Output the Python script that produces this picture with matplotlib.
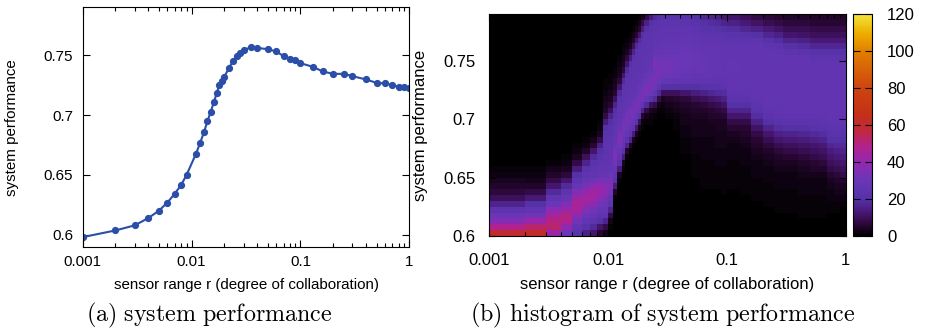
import numpy as np
import matplotlib
matplotlib.use("Agg")
import matplotlib.pyplot as plt
from matplotlib.colors import LinearSegmentedColormap
from matplotlib.ticker import LogLocator, NullFormatter

plt.rcParams['font.family'] = ['Liberation Sans', 'DejaVu Sans']
plt.rcParams['mathtext.fontset'] = 'cm'

# sensor range r and mean system performance (panel a)
r = [0.001, 0.002, 0.003, 0.004, 0.005, 0.006, 0.007, 0.008, 0.009, 0.011,
     0.012, 0.013, 0.014, 0.015, 0.016, 0.017, 0.018, 0.019, 0.020, 0.022,
     0.024, 0.026, 0.028, 0.030, 0.035, 0.040, 0.050, 0.060, 0.070, 0.080,
     0.090, 0.10, 0.13, 0.16, 0.20, 0.25, 0.30, 0.40, 0.50, 0.60,
     0.70, 0.80, 0.90, 1.0]
perf = [0.598, 0.6036, 0.6078, 0.6139, 0.620, 0.6269, 0.6342, 0.6414, 0.650, 0.6678,
        0.6769, 0.6856, 0.695, 0.7027, 0.7106, 0.718, 0.7255, 0.7285, 0.7319, 0.7392,
        0.745, 0.749, 0.7522, 0.754, 0.7567, 0.7561, 0.755, 0.7531, 0.7492, 0.7472,
        0.7456, 0.7433, 0.7403, 0.7364, 0.7344, 0.7344, 0.7325, 0.7297, 0.7269, 0.7264,
        0.725, 0.7236, 0.7231, 0.7222]

# histogram (panel b): r grid of the histogram and performance bins of 0.005
hist_r = [0.001, 0.002, 0.003, 0.004, 0.005, 0.006, 0.007, 0.008, 0.009, 0.010,
          0.011, 0.012, 0.013, 0.014, 0.015, 0.016, 0.017, 0.018, 0.019, 0.020,
          0.022, 0.024, 0.026, 0.028, 0.030, 0.035, 0.040, 0.050, 0.060, 0.070,
          0.080, 0.090, 0.10, 0.13, 0.16, 0.20, 0.25, 0.30, 0.40, 0.50,
          0.60, 0.70, 0.80, 0.90, 1.0]
perf_edges = [0.600 + 0.005 * k for k in range(39)]
# one entry per r-cell: (first non-empty bin, counts going upward from that bin)
hist_cols = [
    (0, [60, 48, 37, 30, 24, 16, 10, 7, 5, 4, 2, 1]),
    (0, [62, 52, 42, 32, 26, 20, 13, 8, 5, 3, 2, 1]),
    (0, [42, 52, 50, 45, 38, 30, 25, 18, 12, 8, 5, 3, 1]),
    (0, [30, 40, 48, 50, 42, 35, 28, 24, 18, 12, 7, 4, 2, 1]),
    (0, [22, 26, 32, 38, 45, 46, 42, 35, 28, 24, 20, 14, 8, 4, 2, 1]),
    (0, [15, 22, 26, 30, 36, 42, 45, 40, 34, 28, 25, 22, 16, 10, 5, 2, 1]),
    (0, [12, 18, 24, 28, 32, 38, 44, 45, 38, 30, 26, 24, 22, 18, 12, 6, 3, 1]),
    (0, [6, 12, 20, 25, 28, 32, 38, 42, 40, 34, 28, 26, 24, 22, 20, 15, 8, 4, 2, 1]),
    (0, [3, 8, 16, 24, 28, 30, 34, 38, 36, 32, 28, 26, 25, 25, 24, 24, 23, 22, 20, 14, 8, 5, 4, 3, 2, 1, 1]),
    (1, [1, 3, 8, 16, 24, 28, 32, 36, 34, 30, 27, 26, 25, 25, 24, 24, 23, 22, 20, 16, 10, 6, 4, 3, 2, 1, 1]),
    (6, [1, 5, 14, 22, 26, 28, 32, 35, 32, 28, 26, 25, 25, 24, 22, 20, 16, 10, 6, 4, 3, 2, 1]),
    (9, [1, 4, 14, 22, 26, 28, 32, 35, 32, 28, 26, 25, 25, 24, 22, 18, 12, 7, 4, 3, 2, 1]),
    (11, [1, 4, 14, 22, 26, 28, 32, 34, 30, 27, 25, 25, 24, 24, 22, 18, 12, 7, 4, 3, 2, 1]),
    (13, [1, 5, 16, 24, 27, 30, 34, 32, 28, 26, 25, 25, 24, 24, 22, 18, 12, 7, 4, 2, 1]),
    (14, [1, 5, 16, 24, 27, 30, 33, 32, 28, 26, 25, 25, 24, 24, 24, 20, 14, 8, 4, 2, 1]),
    (15, [1, 4, 14, 24, 28, 32, 34, 30, 27, 26, 25, 25, 24, 24, 24, 22, 16, 10, 5, 3, 1]),
    (16, [1, 4, 12, 22, 28, 32, 34, 30, 27, 26, 25, 25, 24, 24, 24, 22, 18, 12, 6, 3, 1]),
    (17, [1, 3, 10, 22, 28, 32, 34, 30, 28, 26, 25, 25, 24, 24, 24, 23, 18, 12, 6, 3, 1]),
    (18, [1, 2, 6, 16, 26, 32, 34, 30, 28, 26, 25, 25, 24, 24, 24, 23, 20, 14, 8, 4]),
    (19, [1, 3, 8, 18, 28, 32, 34, 30, 28, 26, 25, 25, 24, 24, 24, 23, 20, 15, 8]),
    (19, [1, 2, 4, 10, 22, 30, 34, 34, 30, 28, 26, 25, 25, 24, 24, 24, 23, 20, 14]),
    (20, [1, 3, 8, 18, 26, 30, 33, 34, 30, 36, 30, 27, 26, 25, 25, 24, 22, 18]),
    (21, [1, 3, 8, 18, 26, 30, 33, 34, 32, 30, 28, 26, 25, 25, 24, 23, 20]),
    (21, [1, 2, 4, 10, 20, 28, 30, 32, 33, 30, 28, 27, 26, 25, 25, 24, 22]),
    (20, [1, 2, 3, 5, 10, 20, 27, 30, 32, 32, 30, 28, 27, 26, 25, 25, 24, 22]),
    (18, [1, 1, 2, 3, 4, 6, 10, 20, 26, 29, 30, 31, 30, 28, 27, 26, 25, 25, 24, 22]),
    (14, [1, 1, 1, 2, 2, 3, 3, 4, 5, 7, 12, 20, 26, 28, 29, 30, 30, 29, 28, 27, 26, 25, 24, 22]),
    (10, [1, 1, 1, 1, 2, 2, 2, 3, 3, 3, 4, 5, 6, 9, 14, 20, 25, 27, 28, 29, 29, 28, 27, 26, 25, 24, 22, 20]),
    (8, [1, 1, 1, 1, 1, 2, 2, 2, 2, 3, 3, 3, 4, 5, 7, 10, 15, 21, 25, 27, 28, 28, 28, 27, 26, 25, 24, 22, 20, 17]),
    (8, [1, 1, 1, 1, 1, 2, 2, 2, 2, 3, 3, 4, 5, 6, 8, 12, 17, 22, 25, 27, 27, 27, 27, 27, 26, 25, 24, 22, 19, 16]),
    (8, [1, 1, 1, 1, 2, 2, 2, 3, 3, 3, 4, 4, 5, 7, 9, 13, 18, 22, 25, 26, 27, 27, 27, 27, 26, 25, 24, 21, 18, 15]),
    (7, [1, 1, 1, 1, 1, 2, 2, 2, 3, 3, 3, 4, 4, 6, 8, 11, 15, 19, 23, 25, 26, 26, 26, 26, 26, 25, 24, 23, 20, 16, 13]),
    (8, [1, 1, 1, 1, 1, 2, 2, 2, 3, 4, 6, 8, 12, 16, 20, 23, 25, 26, 26, 26, 27, 27, 26, 26, 25, 24, 22, 19, 15, 12]),
    (7, [1, 1, 1, 1, 1, 2, 2, 2, 3, 4, 5, 6, 8, 12, 16, 20, 23, 25, 26, 26, 26, 26, 26, 26, 26, 25, 24, 21, 17, 13, 10]),
    (6, [1, 1, 1, 1, 2, 2, 2, 3, 4, 5, 6, 8, 11, 15, 19, 22, 24, 25, 26, 26, 26, 26, 26, 26, 26, 26, 26, 24, 20, 15, 11, 8]),
    (5, [1, 1, 1, 1, 2, 2, 2, 3, 4, 5, 7, 9, 12, 16, 20, 23, 25, 26, 26, 26, 26, 26, 26, 26, 26, 26, 26, 24, 21, 17, 13, 9, 7]),
    (4, [1, 1, 1, 1, 2, 2, 2, 3, 4, 5, 7, 9, 12, 15, 19, 22, 24, 25, 25, 26, 26, 26, 26, 26, 26, 26, 26, 25, 23, 19, 15, 11, 8, 6]),
    (4, [1, 1, 1, 1, 2, 2, 2, 3, 4, 6, 8, 10, 13, 16, 20, 23, 25, 26, 26, 26, 26, 26, 26, 26, 26, 26, 26, 24, 20, 16, 12, 9, 7, 5]),
    (3, [1, 1, 1, 1, 2, 2, 2, 3, 4, 5, 7, 9, 11, 14, 17, 20, 23, 25, 26, 26, 26, 26, 26, 26, 26, 26, 26, 26, 23, 19, 15, 11, 9, 7, 5]),
    (3, [1, 1, 1, 1, 2, 2, 2, 3, 5, 6, 8, 10, 12, 15, 18, 21, 23, 25, 26, 26, 26, 26, 26, 26, 26, 26, 26, 24, 21, 17, 13, 10, 8, 6, 5]),
    (3, [1, 1, 1, 1, 2, 2, 2, 3, 5, 7, 9, 11, 13, 16, 19, 22, 24, 25, 26, 26, 26, 26, 26, 26, 26, 26, 26, 24, 21, 17, 13, 10, 8, 6, 5]),
    (4, [1, 1, 2, 2, 3, 4, 6, 8, 10, 12, 14, 17, 20, 22, 24, 25, 26, 26, 26, 26, 26, 26, 26, 26, 26, 26, 24, 21, 17, 13, 10, 8, 6, 5]),
    (4, [1, 1, 2, 3, 4, 5, 7, 9, 11, 13, 15, 18, 20, 23, 24, 25, 26, 26, 26, 26, 26, 26, 26, 26, 26, 26, 24, 21, 17, 13, 10, 8, 6, 5]),
    (5, [1, 2, 3, 4, 6, 8, 10, 12, 14, 16, 18, 20, 22, 24, 25, 26, 26, 26, 26, 26, 26, 26, 26, 26, 26, 24, 21, 17, 13, 10, 8, 6, 5]),
]

counts = np.zeros((len(perf_edges) - 1, len(hist_r) - 1))
for i, (first, vals) in enumerate(hist_cols):
    counts[first:first + len(vals), i] = vals

# palette as seen on the colour box
pal = [(0.00, '#000000'), (0.05, '#2a0635'), (0.10, '#461670'), (0.167, '#5632a8'),
       (0.25, '#6a36b8'), (0.33, '#9228b0'), (0.40, '#b02290'), (0.47, '#c02840'),
       (0.55, '#c43018'), (0.667, '#cc4410'), (0.833, '#e27e00'), (0.92, '#eeb000'),
       (1.00, '#f4e43a')]
cmap = LinearSegmentedColormap.from_list('pm3d', pal)

W, H = 926, 329
fig = plt.figure(figsize=(W / 100, H / 100), dpi=100)

def box(x0, y0, x1, y1):
    return [x0 / W, 1 - y1 / H, (x1 - x0) / W, (y1 - y0) / H]

line_col = '#2b4ea8'

# (a) system performance
ax1 = fig.add_axes(box(82.7, 7.3, 409.3, 246.7))
ax1.plot(r, perf, '-o', color=line_col, lw=1.5, ms=4.2)
ax1.set_xscale('log')
ax1.set_xlim(0.001, 1)
ax1.set_ylim(0.59, 0.79)
ax1.set_xticks([0.001, 0.01, 0.1, 1])
ax1.set_xticklabels(['0.001', '0.01', '0.1', '1'])
ax1.xaxis.set_minor_locator(LogLocator(base=10, subs=np.arange(2, 10)))
ax1.xaxis.set_minor_formatter(NullFormatter())
ax1.set_yticks([0.6, 0.65, 0.7, 0.75])
ax1.set_yticklabels(['0.6', '0.65', '0.7', '0.75'])
ax1.tick_params(which='both', direction='in', top=True, right=True, labelsize=10.9, width=0.8)
ax1.tick_params(which='major', length=5)
ax1.tick_params(which='minor', length=3)
ax1.tick_params(axis='x', pad=6)
ax1.tick_params(axis='y', pad=7)

# (b) histogram
ax2 = fig.add_axes(box(489.3, 14.3, 845.5, 236))
mesh = ax2.pcolormesh(hist_r, perf_edges, counts, cmap=cmap, vmin=0, vmax=120, shading='flat')
ax2.set_xscale('log')
ax2.set_xlim(0.001, 1)
ax2.set_ylim(0.6, 0.79)
ax2.set_xticks([0.001, 0.01, 0.1, 1])
ax2.set_xticklabels(['0.001', '0.01', '0.1', '1'])
ax2.xaxis.set_minor_locator(LogLocator(base=10, subs=np.arange(2, 10)))
ax2.xaxis.set_minor_formatter(NullFormatter())
ax2.set_yticks([0.6, 0.65, 0.7, 0.75])
ax2.set_yticklabels(['0.6', '0.65', '0.7', '0.75'])
ax2.tick_params(which='both', direction='in', top=True, right=True, labelsize=12, width=0.8)
ax2.tick_params(which='major', length=5)
ax2.tick_params(which='minor', length=3)
ax2.tick_params(axis='x', pad=12)
ax2.tick_params(axis='y', pad=10)

cax = fig.add_axes(box(853.3, 14.3, 871.7, 236))
cb = fig.colorbar(mesh, cax=cax, ticks=range(0, 121, 20))
cb.outline.set_linewidth(0.8)
cax.tick_params(direction='in', length=5, left=True, right=True, labelsize=12, pad=11, width=0.8)

# axis titles and captions
fs_a, fs_b = 10.9, 12
fig.text(12.5 / W, 1 - 127.5 / H, 'system performance', rotation=90, ha='center', va='center', fontsize=fs_a)
fig.text(246 / W, 1 - 285 / H, 'sensor range r (degree of collaboration)', ha='center', va='center', fontsize=fs_a)
fig.text(421 / W, 1 - 125 / H, 'system performance', rotation=90, ha='center', va='center', fontsize=fs_b)
fig.text(667 / W, 1 - 285 / H, 'sensor range r (degree of collaboration)', ha='center', va='center', fontsize=fs_b)

fig.text(209 / W, 1 - 315 / H, r'$\mathrm{(a)\ system\ performance}$', ha='center', va='center', fontsize=17.3)
fig.text(663 / W, 1 - 315 / H, r'$\mathrm{(b)\ histogram\ of\ system\ performance}$', ha='center', va='center', fontsize=17.3)

fig.savefig('out.png', dpi=100)
